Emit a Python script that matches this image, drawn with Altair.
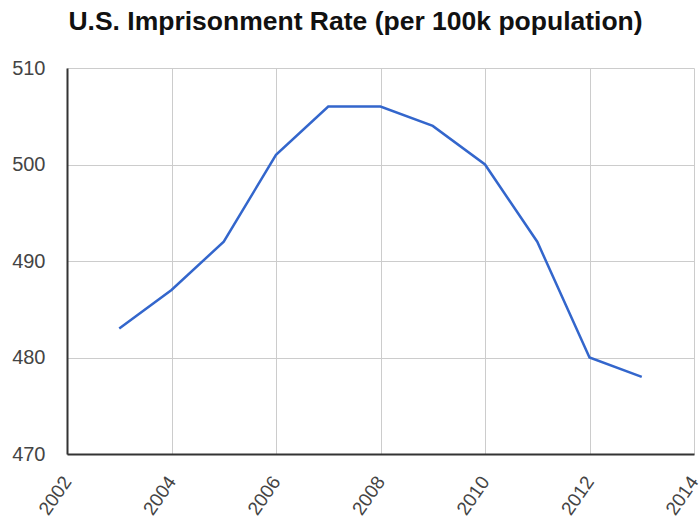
import altair as alt
import pandas as pd

years = [2003, 2004, 2005, 2006, 2007, 2008, 2009, 2010, 2011, 2012, 2013]
rates = [483, 487, 492, 501, 506, 506, 504, 500, 492, 480, 478]
x_ticks = [2002, 2004, 2006, 2008, 2010, 2012, 2014]
y_ticks = [470, 480, 490, 500, 510]

df = pd.DataFrame({"year": years, "rate": rates})

chart = alt.Chart(df).mark_line(color="#3366cc", strokeWidth=2.5).encode(
    x=alt.X("year:Q",
            scale=alt.Scale(domain=[2002, 2014], nice=False, zero=False),
            axis=alt.Axis(values=x_ticks, format="d", title=None, labelAngle=-55,
                          labelAlign="right", labelBaseline="middle",
                          labelFontSize=19, labelColor="#444444", labelPadding=24,
                          ticks=False, domainColor="#333333", domainWidth=2,
                          gridColor="#cccccc", labelFont="Liberation Sans",
                          labelOverlap=False)),
    y=alt.Y("rate:Q",
            scale=alt.Scale(domain=[470, 510], nice=False, zero=False),
            axis=alt.Axis(values=y_ticks, title=None, labelFontSize=20,
                          labelColor="#444444", labelPadding=22, ticks=False,
                          domainColor="#333333", domainWidth=2,
                          gridColor="#cccccc", labelFont="Liberation Sans")),
).properties(
    width=627,
    height=386,
    title=alt.TitleParams("U.S. Imprisonment Rate (per 100k population)",
                          fontSize=26.5, fontWeight="bold", font="Liberation Sans",
                          color="#111111", anchor="middle", dx=-25, offset=23),
    autosize=alt.AutoSizeParams(type="none"),
    padding={"left": 67, "top": 68, "right": 6, "bottom": 67},
).configure_view(stroke=None)

chart.save("out.html", embed_options={"renderer": "svg", "actions": False})
